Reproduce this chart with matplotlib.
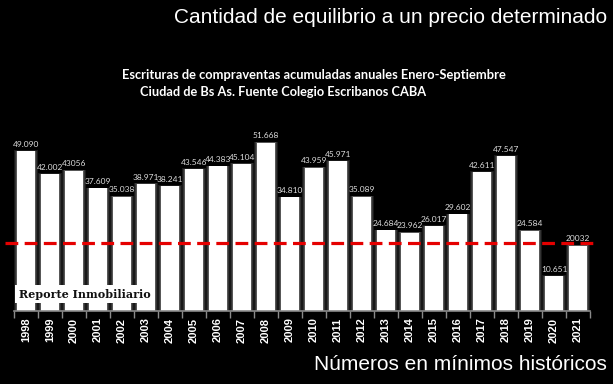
"""
Escrituras de compraventas acumuladas (Enero-Septiembre), CABA 1998-2021.
Barras blancas sobre fondo negro con linea de equilibrio punteada roja.
"""

import matplotlib.pyplot as plt
from matplotlib.patches import Rectangle
from matplotlib.ticker import FixedLocator

# Datos
years = ['1998', '1999', '2000', '2001', '2002', '2003', '2004', '2005',
         '2006', '2007', '2008', '2009', '2010', '2011', '2012', '2013',
         '2014', '2015', '2016', '2017', '2018', '2019', '2020', '2021']
values = [49.090, 42.002, 43.056, 37.609, 35.038, 38.971, 38.241, 43.546,
          44.383, 45.104, 51.668, 34.810, 43.959, 45.971, 35.089, 24.684,
          23.962, 26.017, 29.602, 42.611, 47.547, 24.584, 10.651, 20.032]
value_labels = ['49.090', '42.002', '43056', '37.609', '35.038', '38.971',
                '38.241', '43.546', '44.383', '45.104', '51.668', '34.810',
                '43.959', '45.971', '35.089', '24.684', '23.962', '26.017',
                '29.602', '42.611', '47.547', '24.584', '10.651', '20032']
equilibrium = 20.7

title_top = 'Cantidad de equilibrio a un precio determinado'
title_bottom = 'Números en mínimos históricos'
subtitle_1 = 'Escrituras de compraventas acumuladas anuales Enero-Septiembre'
subtitle_2 = 'Ciudad de Bs As. Fuente Colegio Escribanos CABA'
watermark = 'Reporte Inmobiliario'


def main():
    fig = plt.figure(figsize=(6.13, 3.84), dpi=100, facecolor='black')
    ax = fig.add_axes([14 / 613, 0.191, 576 / 613, 0.508])
    ax.set_facecolor('black')

    x = list(range(len(years)))

    # glow around the bars
    for extra, alpha in [(0.26, 0.10), (0.16, 0.12), (0.08, 0.18)]:
        ax.bar(x, [v + extra for v in values], width=0.72 + extra,
               color='white', alpha=alpha, linewidth=0, zorder=1)
    ax.bar(x, values, width=0.72, color='white', linewidth=0, zorder=2)

    for xi, v, lab in zip(x, values, value_labels):
        ax.text(xi, v + 1.0, lab, ha='center', va='bottom', fontsize=6,
                family='Lato', color='#dddddd', zorder=4)

    # linea de equilibrio
    ax.plot([-0.88, 23.8], [equilibrium, equilibrium], color='#e50000',
            lw=2.3, dashes=(4, 2), clip_on=False, zorder=5)

    # marca de agua
    ax.add_patch(Rectangle((-0.46, 2.3), 5.83, 5.6, facecolor='white',
                           edgecolor='none', zorder=3))
    ax.text(2.45, 5.1, watermark, ha='center', va='center', fontsize=8,
            family='DejaVu Serif', weight='bold', color='#111111', zorder=4)

    ax.set_xlim(-0.5, len(years) - 0.5)
    ax.set_ylim(0, 60)
    for side in ['top', 'right', 'left']:
        ax.spines[side].set_visible(False)
    ax.spines['bottom'].set_color('#8a8a8a')
    ax.spines['bottom'].set_linewidth(1.2)
    ax.set_yticks([])
    ax.set_xticks(x)
    ax.set_xticklabels(years, rotation=90, fontsize=8, weight='bold',
                       family='Liberation Sans', color='white')
    ax.tick_params(axis='x', which='major', length=0, pad=5)
    ax.xaxis.set_minor_locator(FixedLocator([i - 0.5 for i in range(len(years) + 1)]))
    ax.tick_params(axis='x', which='minor', length=5, color='#8a8a8a', width=1)

    fig.text(0.99, 0.955, title_top, ha='right', va='center', fontsize=15,
             family='Liberation Sans', color='white')
    fig.text(0.99, 0.05, title_bottom, ha='right', va='center', fontsize=15,
             family='Liberation Sans', color='white')
    fig.text(122 / 613, 0.805, subtitle_1, ha='left', va='center', fontsize=9.3,
             family='Lato', weight='bold', color='white')
    fig.text(140 / 613, 0.76, subtitle_2, ha='left', va='center', fontsize=9.2,
             family='Lato', weight='bold', color='white')

    fig.savefig('out.png', dpi=100, facecolor='black')


if __name__ == '__main__':
    main()
